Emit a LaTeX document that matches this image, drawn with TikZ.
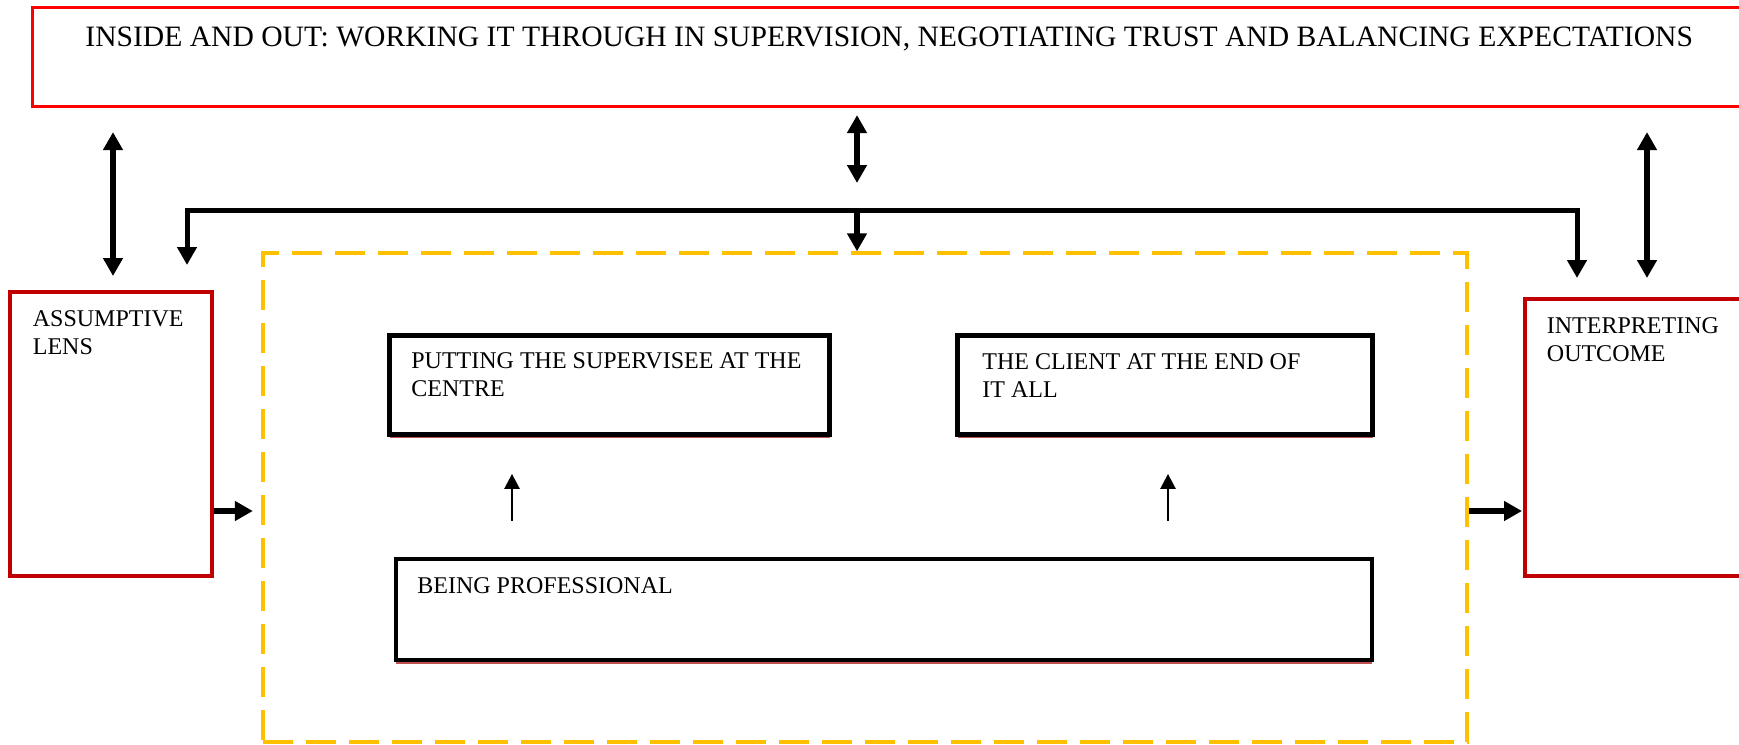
\documentclass[tikz,border=0pt]{standalone}
\usepackage{fontspec}
\setmainfont{Liberation Serif}
\usetikzlibrary{arrows.meta,fit,shadows}
\definecolor{titlered}{HTML}{FF0000}
\definecolor{boxred}{HTML}{C00000}
\definecolor{gold}{HTML}{FFC000}
\definecolor{shadowred}{HTML}{C0504D}
\begin{document}
\begin{tikzpicture}[x=0.5pt,y=-0.5pt,
  titlebox/.style={draw=titlered,line width=1.6pt,inner sep=0pt},
  sidebox/.style={draw=boxred,line width=2pt,inner sep=0pt},
  innerbox/.style={draw=black,fill=white,line width=2.4pt,inner sep=0pt,
    drop shadow={shadow xshift=0pt,shadow yshift=-1.8pt,fill=shadowred,opacity=1}},
  framebox/.style={draw=gold,line width=1.65pt,dash pattern=on 15pt off 6.5pt,inner sep=0pt},
  label/.style={anchor=north west,inner sep=0pt,align=left,
    font=\fontsize{12pt}{14.2pt}\selectfont},
  tip/.style={Triangle[length=9pt,width=9.5pt]},
  bigarrow/.style={line width=2.7pt,-{Triangle[length=9pt,width=9.5pt]}},
  bigboth/.style={line width=2.7pt,{Triangle[length=9pt,width=9.5pt]}-{Triangle[length=9pt,width=9.5pt]}},
  thinarrow/.style={line width=1.3pt,-{Triangle[length=7.5pt,width=7.5pt]}},
]
\useasboundingbox (0,0) rectangle (1739,744);

% boxes
\node[titlebox,fit={(32.5,7.5) (1760,106.5)}] (top) {};
\node[anchor=base west,inner sep=0pt,font=\fontsize{14.8pt}{17pt}\selectfont] (title) at (85,46.5)
  {INSIDE AND OUT: WORKING IT THROUGH IN SUPERVISION, NEGOTIATING TRUST AND BALANCING EXPECTATIONS};

\node[sidebox,fit={(10,292) (212,576)}] (lens) {};
\node[label] (lenstext) at (32.5,310) {ASSUMPTIVE\\LENS};

\node[sidebox,fit={(1525,299) (1760,576)}] (out) {};
\node[label] (outtext) at (1546.5,317) {INTERPRETING\\OUTCOME};

\node[framebox,fit={(263,253) (1467,742)}] (frame) {};

\node[innerbox,fit={(389.5,335.5) (829.5,434.5)}] (centre) {};
\node[label] (centretext) at (411,352) {PUTTING THE SUPERVISEE AT THE\\CENTRE};

\node[innerbox,fit={(957.5,335.5) (1372.5,434.5)}] (client) {};
\node[label] (clienttext) at (982,353) {THE CLIENT AT THE END OF\\IT ALL};

\node[innerbox,fit={(396,559) (1372,660)}] (prof) {};
\node[label] (proftext) at (417,577) {BEING PROFESSIONAL};

% junction points
\coordinate (hub) at (857,210);
\coordinate (bl) at (187,210);
\coordinate (br) at (1577,210);
\coordinate (ldbl) at (113,0);
\coordinate (rdbl) at (1647,0);
\coordinate (ya) at (0,511);
\coordinate (ua) at (512,0);
\coordinate (ub) at (1168,0);

% connectors to the title box
\draw[bigboth,shorten <=12pt,shorten >=7pt] (top.south -| ldbl) -- (ldbl |- lens.north);
\draw[bigboth,shorten <=3.5pt,shorten >=13.5pt] (top.south -| hub) -- (hub);
\draw[bigboth,shorten <=12pt,shorten >=9.5pt] (top.south -| rdbl) -- (rdbl |- out.north);

% bracket feeding both side boxes and the frame
\draw[bigboth,line width=2.5pt,line join=miter,shorten <=12.5pt,shorten >=9.5pt]
  (bl |- lens.north) -- (bl) -- (br) -- (br |- out.north);
\draw[bigarrow] (hub) -- (hub |- frame.north);

% side flows
\draw[bigarrow,shorten >=4.25pt] (lens.east |- ya) -- (frame.west |- ya);
\draw[bigarrow,shorten >=0.5pt] (frame.east |- ya) -- (out.west |- ya);

% inner arrows
\draw[thinarrow,shorten <=18pt,shorten >=18.5pt] (prof.north -| ua) -- (centre.south -| ua);
\draw[thinarrow,shorten <=18pt,shorten >=18.5pt] (prof.north -| ub) -- (client.south -| ub);
\end{tikzpicture}
\end{document}
